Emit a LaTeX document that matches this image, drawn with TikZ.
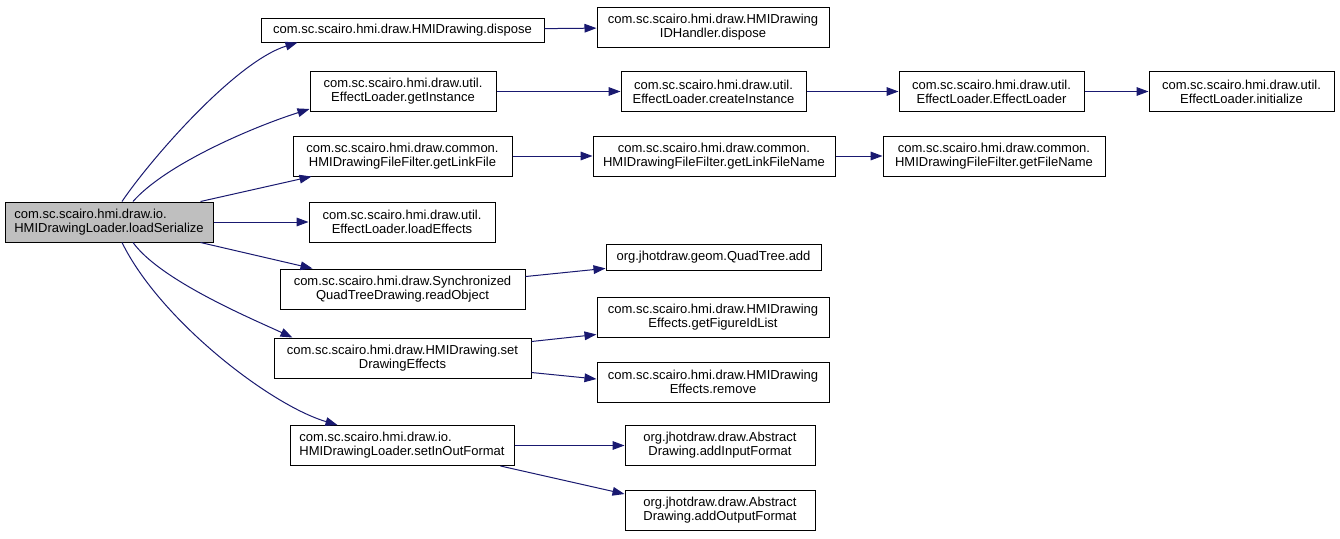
\documentclass[tikz,border=0pt]{standalone}
\usepackage{fontspec}
\setmainfont{Liberation Sans}
\usetikzlibrary{arrows.meta,calc}
\definecolor{edgeblue}{HTML}{191970}
\definecolor{callerfill}{HTML}{BFBFBF}
\begin{document}
\begin{tikzpicture}[x=0.75pt,y=-0.75pt,
  fn/.style={draw=black, line width=0.75pt, fill=white, inner sep=0pt, align=center,
    font=\fontsize{9.75pt}{10.5pt}\selectfont, minimum height=30pt},
  bw/.style={minimum width=#1*0.75pt},
  bh/.style={minimum height=#1*0.75pt},
  call/.style={draw=edgeblue, line width=0.75pt, -{Triangle[length=9pt,width=6.5pt]}},
]
\useasboundingbox[fill=white] (0,0) rectangle (1340,539);

% caller
\node[fn, fill=callerfill, bw=208, align=left] (main) at (109,222) {com.sc.scairo.hmi.draw.io.\\HMIDrawingLoader.loadSerialize};

% callees
\node[fn,bw=283,bh=24] (dispose) at (402.5,30) {com.sc.scairo.hmi.draw.HMIDrawing.dispose};
\node[fn,bw=232] (idh) at (713,27) {com.sc.scairo.hmi.draw.HMIDrawing\\IDHandler.dispose};
\node[fn,bw=186] (getInst) at (403,91.5) {com.sc.scairo.hmi.draw.util.\\EffectLoader.getInstance};
\node[fn,bw=185] (createInst) at (713.5,91.5) {com.sc.scairo.hmi.draw.util.\\EffectLoader.createInstance};
\node[fn,bw=185] (ctor) at (991.5,91.5) {com.sc.scairo.hmi.draw.util.\\EffectLoader.EffectLoader};
\node[fn,bw=185] (init) at (1241.5,91.5) {com.sc.scairo.hmi.draw.util.\\EffectLoader.initialize};
\node[fn,bw=219] (linkFile) at (402.5,156) {com.sc.scairo.hmi.draw.common.\\HMIDrawingFileFilter.getLinkFile};
\node[fn,bw=242] (linkFileName) at (714,156) {com.sc.scairo.hmi.draw.common.\\HMIDrawingFileFilter.getLinkFileName};
\node[fn,bw=222] (fileName) at (994,156) {com.sc.scairo.hmi.draw.common.\\HMIDrawingFileFilter.getFileName};
\node[fn,bw=186] (loadEff) at (402,222) {com.sc.scairo.hmi.draw.util.\\EffectLoader.loadEffects};
\node[fn,bw=245] (readObj) at (402.5,289) {com.sc.scairo.hmi.draw.Synchronized\\QuadTreeDrawing.readObject};
\node[fn,bw=215,bh=26] (qtAdd) at (713.5,257.5) {org.jhotdraw.geom.QuadTree.add};
\node[fn,bw=257] (setEff) at (402.5,358) {com.sc.scairo.hmi.draw.HMIDrawing.set\\DrawingEffects};
\node[fn,bw=232] (figIds) at (713,317) {com.sc.scairo.hmi.draw.HMIDrawing\\Effects.getFigureIdList};
\node[fn,bw=232] (remove) at (713,382) {com.sc.scairo.hmi.draw.HMIDrawing\\Effects.remove};
\node[fn,bw=224,align=left] (inOut) at (402,445.5) {com.sc.scairo.hmi.draw.io.\\HMIDrawingLoader.setInOutFormat};
\node[fn,bw=190] (addIn) at (720,445.5) {org.jhotdraw.draw.Abstract\\Drawing.addInputFormat};
\node[fn,bw=190] (addOut) at (720,510) {org.jhotdraw.draw.Abstract\\Drawing.addOutputFormat};

% calls from loadSerialize
\draw[call] ($(main.north)+(13,0)$) .. controls (150,160) and (235,62) .. ($(dispose.south west)+(37,0)$);
\draw[call] ($(main.north)+(24,0)$) .. controls (165,165) and (250,128) .. ($(getInst.south west)+(0,-3)$);
\draw[call] ($(main.north east)+(-13,0)$) -- ($(linkFile.south west)+(19,0)$);
\draw[call] (main) -- (loadEff);
\draw[call] ($(main.south east)+(-13,0)$) -- ($(readObj.north west)+(33,0)$);
\draw[call] ($(main.south)+(24,0)$) .. controls (160,280) and (250,318) .. ($(setEff.north west)+(19,0)$);
\draw[call] ($(main.south)+(13,0)$) .. controls (160,320) and (270,405) .. ($(inOut.north west)+(48,0)$);

% further calls
\draw[call] (dispose) -- (idh);
\draw[call] (getInst) -- (createInst);
\draw[call] (createInst) -- (ctor);
\draw[call] (ctor) -- (init);
\draw[call] (linkFile) -- (linkFileName);
\draw[call] (linkFileName) -- (fileName);
\draw[call] (readObj) -- (qtAdd);
\draw[call] ($(setEff.north east)+(0,4)$) -- ($(figIds.south west)+(0,-3)$);
\draw[call] ($(setEff.south east)+(0,-6)$) -- ($(remove.west)+(0,-3)$);
\draw[call] (inOut) -- (addIn);
\draw[call] ($(inOut.south east)+(-14,0)$) -- ($(addOut.west)+(0,-16)$);
\end{tikzpicture}
\end{document}
